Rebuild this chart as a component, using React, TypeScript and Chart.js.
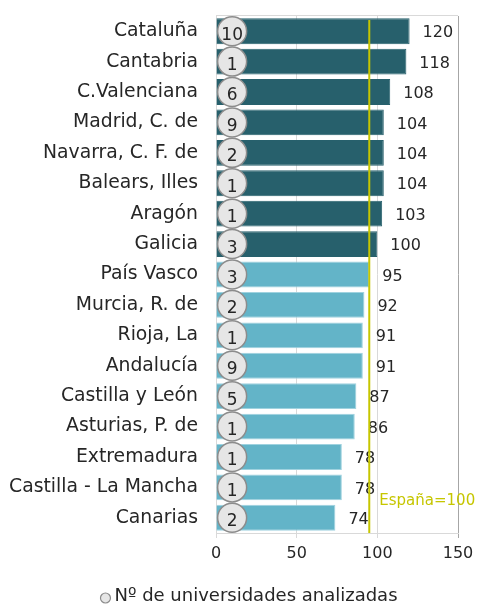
import React, { useEffect, useRef } from 'react';
import { Chart, registerables } from 'chart.js';

Chart.register(...registerables);

const regions = [
  'Cataluña',
  'Cantabria',
  'C.Valenciana',
  'Madrid, C. de',
  'Navarra, C. F. de',
  'Balears, Illes',
  'Aragón',
  'Galicia',
  'País Vasco',
  'Murcia, R. de',
  'Rioja, La',
  'Andalucía',
  'Castilla y León',
  'Asturias, P. de',
  'Extremadura',
  'Castilla - La Mancha',
  'Canarias',
];
const indexValues = [120, 118, 108, 104, 104, 104, 103, 100, 95, 92, 91, 91, 87, 86, 78, 78, 74];
const universities = [10, 1, 6, 9, 2, 1, 1, 3, 3, 2, 1, 9, 5, 1, 1, 1, 2];
const xTickValues = [0, 50, 100, 150];
const spainLineValue = 95;
const spainLabel = 'España=100';
const legendLabel = 'Nº de universidades analizadas';
const circleXValue = 10;

const DARK = '#27606c';
const LIGHT = '#63b4c8';
const LIGHT_EDGE = '#9fd2df';
const TEXT = '#262626';
const SPAIN = '#c6c600';
const CIRCLE_FILL = '#e6e6e6';
const CIRCLE_EDGE = '#8c8c8c';
const FONT = "'DejaVu Sans', sans-serif";

const overlayPlugin = {
  id: 'overlay',
  afterDatasetsDraw(chart: any) {
    const ctx = chart.ctx;
    const xs = chart.scales.x;
    const ys = chart.scales.y;
    const area = chart.chartArea;
    ctx.save();
    // value labels
    const barMeta = chart.getDatasetMeta(0);
    ctx.font = `16px ${FONT}`;
    ctx.fillStyle = TEXT;
    ctx.textAlign = 'left';
    ctx.textBaseline = 'middle';
    barMeta.data.forEach((bar: any, i: number) => {
      ctx.fillText(String(indexValues[i]), bar.x + 13, bar.y + 2);
    });
    // numbers in circles
    const ptMeta = chart.getDatasetMeta(1);
    ctx.font = `17px ${FONT}`;
    ctx.textAlign = 'center';
    ptMeta.data.forEach((pt: any, i: number) => {
      ctx.fillText(String(universities[i]), pt.x, pt.y + 4);
    });
    // Spain reference line
    const lx = xs.getPixelForValue(spainLineValue);
    ctx.strokeStyle = SPAIN;
    ctx.lineWidth = 2;
    ctx.beginPath();
    ctx.moveTo(lx, area.top + 4);
    ctx.lineTo(lx, area.bottom);
    ctx.stroke();
    ctx.fillStyle = SPAIN;
    ctx.font = `15px ${FONT}`;
    ctx.textAlign = 'left';
    ctx.fillText(spainLabel, lx + 10, ys.getPixelForValue(regions.length - 1) - 17);
    ctx.restore();
  },
  afterDraw(chart: any) {
    // legend for the circles series
    const ctx = chart.ctx;
    ctx.save();
    ctx.font = `18px ${FONT}`;
    const textW = ctx.measureText(legendLabel).width;
    const markerR = 5;
    const gap = 4;
    const total = markerR * 2 + gap + textW;
    const cx = 249;
    const cy = 596;
    const startX = cx - total / 2;
    ctx.beginPath();
    ctx.arc(startX + markerR, cy + 2, markerR, 0, Math.PI * 2);
    ctx.fillStyle = CIRCLE_FILL;
    ctx.fill();
    ctx.lineWidth = 1.2;
    ctx.strokeStyle = CIRCLE_EDGE;
    ctx.stroke();
    ctx.fillStyle = TEXT;
    ctx.textAlign = 'left';
    ctx.textBaseline = 'middle';
    ctx.fillText(legendLabel, startX + markerR * 2 + gap, cy);
    ctx.restore();
  },
};

export default function App() {
  const ref = useRef<HTMLCanvasElement>(null);

  useEffect(() => {
    document.body.style.margin = '0';
    const canvas = ref.current;
    if (!canvas) return;
    const chart = new Chart(canvas, {
      type: 'bar',
      data: {
        labels: regions,
        datasets: [
          {
            type: 'bar',
            label: 'Índice',
            data: indexValues,
            backgroundColor: indexValues.map((v) => (v >= 100 ? DARK : LIGHT)),
            borderColor: indexValues.map((v) => (v >= 100 ? DARK : LIGHT_EDGE)),
            borderWidth: 1,
            barPercentage: 0.85,
            categoryPercentage: 1,
            order: 2,
          } as any,
          {
            type: 'line',
            label: legendLabel,
            indexAxis: 'y',
            data: regions.map((r) => ({ x: circleXValue, y: r })),
            showLine: false,
            pointStyle: 'circle',
            pointRadius: 14.5,
            pointHoverRadius: 14.5,
            pointBackgroundColor: CIRCLE_FILL,
            pointBorderColor: CIRCLE_EDGE,
            pointBorderWidth: 1.5,
            backgroundColor: CIRCLE_FILL,
            borderColor: CIRCLE_EDGE,
            order: 1,
          } as any,
        ],
      },
      options: {
        indexAxis: 'y',
        responsive: false,
        animation: false,
        events: [],
        layout: { padding: { left: 0, right: 21, top: 15, bottom: 32 } },
        scales: {
          x: {
            type: 'linear',
            min: 0,
            max: 150,
            afterBuildTicks: (scale: any) => {
              scale.ticks = xTickValues.map((v) => ({ value: v }));
            },
            afterFit: (scale: any) => {
              scale.height = 40;
              scale.paddingLeft = 0;
              scale.paddingRight = 0;
            },
            ticks: {
              font: { family: FONT, size: 16 },
              color: TEXT,
              padding: 6,
            },
            grid: {
              color: (c: any) => (c.tick && c.tick.value === 150 ? '#a6a6a6' : '#d9d9d9'),
              tickLength: 5,
              lineWidth: 1,
            },
            border: { color: '#d9d9d9' },
          },
          y: {
            type: 'category',
            afterFit: (scale: any) => {
              scale.width = 216;
              scale.paddingTop = 0;
              scale.paddingBottom = 0;
            },
            ticks: {
              font: { family: FONT, size: 18.8 },
              color: TEXT,
              padding: 18,
            },
            grid: {
              drawTicks: false,
              color: (c: any) => (c.index === 0 ? '#d9d9d9' : 'rgba(0,0,0,0)'),
            },
            border: { display: false },
          },
        },
        plugins: {
          legend: { display: false },
          tooltip: { enabled: false },
        },
      } as any,
      plugins: [overlayPlugin],
    });
    return () => chart.destroy();
  }, []);

  return (
    <div style={{ width: 479, height: 605 }}>
      <canvas ref={ref} width={479} height={605} style={{ display: 'block' }} />
    </div>
  );
}
